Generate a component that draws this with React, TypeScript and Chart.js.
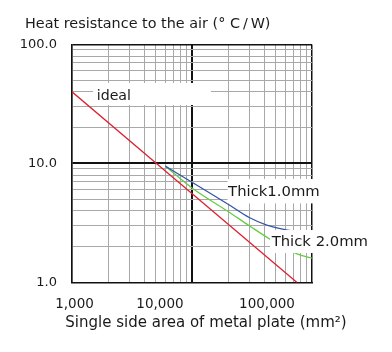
import React, { useEffect, useRef } from "react";
import { Chart, registerables } from "chart.js";

Chart.register(...registerables);

const titleText = "Heat resistance to the air (° C\u2009/\u2009W)";
const xTitle = "Single side area of metal plate (mm²)";

const xGridValues = [
  1000, 2000, 3000, 4000, 5000, 6000, 7000, 8000, 9000,
  10000, 20000, 30000, 40000, 50000, 60000, 70000, 80000, 90000, 100000,
];
const yGridValues = [1, 2, 3, 4, 5, 6, 7, 8, 9, 10, 20, 30, 40, 50, 60, 70, 80, 90, 100];
const yLabelValues = [1, 10, 100];
// x tick labels, placed where the reference prints them
const xTickLabels = ["1,000", "10,000", "100,000"];
const xTickLabelAt = [1049, 5410, 42170];

const idealX = [1000, 5000, 75000];
const idealY = [40, 10.1, 1.0];
const thick1X = [6000, 10000, 20000, 30000, 42000, 58000, 75000];
const thick1Y = [9.5, 6.95, 4.55, 3.52, 3.04, 2.8, 2.67];
const thick2X = [6000, 10000, 20000, 30000, 45000, 75000, 100000];
const thick2Y = [9.5, 6.22, 3.95, 3.0, 2.3, 1.74, 1.6];

const labelTexts = ["ideal", "Thick1.0mm", "Thick 2.0mm"];
const labelTextX = [1606, 20000, 46150];
const labelTextY = [36.9, 5.77, 2.2];
const labelBoxX1 = [1496, 19800, 44670];
const labelBoxX2 = [14390, 121100, 304000];
const labelBoxY1 = [47.5, 7.41, 2.76];
const labelBoxY2 = [31.0, 4.62, 1.77];

const FONT = "'DejaVu Sans', Verdana, sans-serif";

const labelBoxes = {
  id: "labelBoxes",
  afterLayout(chart: any) {
    if (chart.titleBlock) chart.titleBlock.left += 5;
  },
  afterDraw(chart: any) {
    const { ctx, scales } = chart;
    const xs = scales.x;
    const ys = scales.y;
    ctx.save();
    labelTexts.forEach((t, i) => {
      const x1 = xs.getPixelForValue(labelBoxX1[i]);
      const x2 = xs.getPixelForValue(labelBoxX2[i]);
      const y1 = ys.getPixelForValue(labelBoxY1[i]);
      const y2 = ys.getPixelForValue(labelBoxY2[i]);
      ctx.fillStyle = "#ffffff";
      ctx.fillRect(x1, y1, x2 - x1, y2 - y1);
      ctx.fillStyle = "#1a1a1a";
      ctx.font = (i === 0 ? "14.2px " : "14.8px ") + FONT;
      ctx.textAlign = "left";
      ctx.textBaseline = "middle";
      ctx.fillText(t, xs.getPixelForValue(labelTextX[i]), ys.getPixelForValue(labelTextY[i]));
    });
    ctx.restore();
  },
};

export default function App() {
  const ref = useRef<HTMLCanvasElement>(null);
  useEffect(() => {
    if (!ref.current) return;
    const mk = (xv: number[], yv: number[]) => xv.map((x, i) => ({ x, y: yv[i] }));
    const chart = new Chart(ref.current, {
      type: "line",
      data: {
        datasets: [
          { label: "ideal", data: mk(idealX, idealY), borderColor: "#dd2233", borderWidth: 1.3, pointRadius: 0, tension: 0, xAxisID: "x", yAxisID: "y" },
          { label: "Thick1.0mm", data: mk(thick1X, thick1Y), borderColor: "#3355aa", borderWidth: 1.3, pointRadius: 0, cubicInterpolationMode: "monotone", xAxisID: "x", yAxisID: "y" },
          { label: "Thick 2.0mm", data: mk(thick2X, thick2Y), borderColor: "#66cc44", borderWidth: 1.3, pointRadius: 0, cubicInterpolationMode: "monotone", xAxisID: "x", yAxisID: "y" },
        ],
      },
      options: {
        responsive: false,
        animation: false,
        layout: { padding: { left: 20, right: 0, top: 0, bottom: 0 } },
        plugins: {
          legend: { display: false },
          tooltip: { enabled: false },
          title: {
            display: true,
            text: titleText,
            align: "start",
            color: "#1a1a1a",
            font: { family: FONT, size: 14.4, weight: "normal" },
            padding: { top: 15.4, bottom: 11.8 },
          },
          subtitle: {
            display: true,
            position: "bottom",
            text: xTitle,
            align: "center",
            color: "#1a1a1a",
            font: { family: FONT, size: 15, weight: "normal" },
            padding: { top: 2.7, bottom: 20 },
          },
        },
        scales: {
          x: {
            type: "logarithmic",
            position: "bottom",
            min: 1000,
            max: 100000,
            afterBuildTicks: (s: any) => { s.ticks = xGridValues.map((v) => ({ value: v })); },
            afterFit: (s: any) => { s.height = 0; },
            ticks: { display: false },
            grid: {
              drawTicks: false,
              color: (c: any) => (c.tick && (c.tick.value === 10000 || c.tick.value === 100000) ? "#111" : "#a8a8a8"),
              lineWidth: (c: any) => (c.tick && c.tick.value === 10000 ? 2 : c.tick && c.tick.value === 100000 ? 1.5 : 1),
            },
            border: { display: true, color: "#111", width: 1.5 },
          },
          xl: {
            type: "logarithmic",
            position: "bottom",
            min: 1000,
            max: 100000,
            afterBuildTicks: (s: any) => { s.ticks = xTickLabelAt.map((v) => ({ value: v })); },
            afterFit: (s: any) => { s.height = 28.8; },
            grid: { display: false, drawTicks: false },
            border: { display: false },
            ticks: {
              autoSkip: false,
              maxRotation: 0,
              padding: 14,
              color: "#1a1a1a",
              font: { family: FONT, size: 13.5 },
              callback: (_v: any, i: number) => xTickLabels[i],
            },
          },
          y: {
            type: "logarithmic",
            position: "left",
            min: 1,
            max: 100,
            afterBuildTicks: (s: any) => { s.ticks = yGridValues.map((v) => ({ value: v })); },
            afterFit: (s: any) => { s.width = 52; },
            ticks: {
              autoSkip: false,
              padding: 15,
              color: "#1a1a1a",
              font: { family: FONT, size: 13 },
              callback: (v: any) => (yLabelValues.includes(Number(v)) ? Number(v).toFixed(1) : ""),
            },
            grid: {
              drawTicks: false,
              color: (c: any) => (c.tick && (c.tick.value === 10 || c.tick.value === 100) ? "#111" : "#a8a8a8"),
              lineWidth: (c: any) => (c.tick && c.tick.value === 10 ? 2 : c.tick && c.tick.value === 100 ? 1.5 : 1),
            },
            border: { display: true, color: "#111", width: 1.5 },
          },
          yr: {
            type: "linear",
            position: "right",
            display: true,
            afterFit: (s: any) => { s.width = 80; },
            ticks: { display: false },
            grid: { display: false, drawTicks: false },
            border: { display: false },
          },
        },
      },
      plugins: [labelBoxes],
    } as any);
    return () => chart.destroy();
  }, []);
  return (
    <div style={{ position: "fixed", left: 0, top: 0, width: 392, height: 352, background: "#fff" }}>
      <canvas ref={ref} width={392} height={352} style={{ display: "block" }} />
    </div>
  );
}
